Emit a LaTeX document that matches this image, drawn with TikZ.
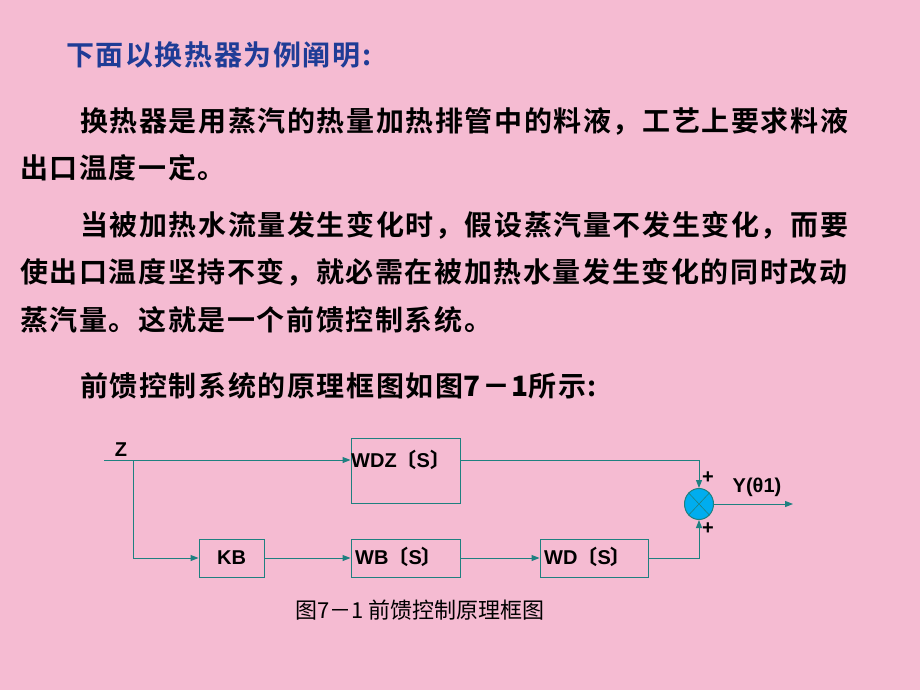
\documentclass[tikz,border=0pt]{standalone}
\usepackage{fontspec}
\setmainfont{Liberation Sans}
\newfontfamily\cjk{Noto Sans CJK SC}
\newfontfamily\cjkb[LetterSpace=5.7]{Noto Sans CJK SC Bold}
\usetikzlibrary{arrows.meta,shapes.geometric}
\definecolor{bg}{HTML}{F5BBD2}
\definecolor{ttl}{HTML}{1F3C96}
\definecolor{ln}{HTML}{1E8080}
\tikzset{
  para/.style={anchor=west,inner sep=0pt,font=\cjkb\fontsize{28}{28}\selectfont},
  blk/.style={draw=ln,line width=1pt,inner sep=0pt},
  lab/.style={inner sep=0pt,font=\bfseries\fontsize{20}{20}\selectfont},
  wire/.style={draw=ln,line width=1pt},
  arr/.style={wire,-{Triangle[length=8pt,width=6pt]}}
}
\begin{document}
\begin{tikzpicture}[x=1pt,y=-1pt]
\fill[bg] (0,0) rectangle (920,690);
\useasboundingbox (0,0) rectangle (920,690);
\node[para,text=ttl] (t) at (66,55) {下面以换热器为例阐明:};
\node[para] (l1) at (80,121) {换热器是用蒸汽的热量加热排管中的料液，工艺上要求料液};
\node[para] (l2) at (20,168) {出口温度一定。};
\node[para] (l3) at (80,225) {当被加热水流量发生变化时，假设蒸汽量不发生变化，而要};
\node[para] (l4) at (20,272) {使出口温度坚持不变，就必需在被加热水量发生变化的同时改动};
\node[para] (l5) at (20,320) {蒸汽量。这就是一个前馈控制系统。};
\node[para] (l6) at (80,386) {前馈控制系统的原理框图如图{\bfseries 7－1}所示:};
% blocks
\node[blk,minimum width=109pt,minimum height=65pt] (wdz) at (405.5,470.5) {};
\node[lab,anchor=west] (wdzt) at (351,460) {WDZ{\cjk〔}S{\cjk〕}};
\node[blk,minimum width=65pt,minimum height=38pt] (kb) at (231.5,558) {};
\node[lab] (kbt) at (kb) {KB};
\node[blk,minimum width=109pt,minimum height=38pt] (wb) at (405.5,558) {};
\node[lab,anchor=west] (wbt) at (355,557) {WB{\cjk〔}S{\cjk〕}};
\node[blk,minimum width=108pt,minimum height=38pt] (wd) at (594,558) {};
\node[lab,anchor=west] (wdt) at (544,557) {WD{\cjk〔}S{\cjk〕}};
\node[draw=ln,fill=cyan,line width=1pt,ellipse,minimum width=29pt,minimum height=31pt,inner sep=0pt] (sum) at (699,504) {};
\draw[ln,line width=0.6pt] (sum.north west) -- (sum.south east) (sum.north east) -- (sum.south west);
\coordinate (zs) at (104,460);
\coordinate (br) at (133.5,460);
\coordinate (out) at (793,504);
\node[lab] (z) at (121,450) {Z};
\node[lab] (y) at (757,487) {Y(θ1)};
\node[lab] (p1) at (708,478) {+};
\node[lab] (p2) at (708,529) {+};
\node[inner sep=0pt,font=\cjk\fontsize{22}{22}\selectfont] (cap) at (420,610) {图7－1 前馈控制原理框图};
\draw[arr] (zs) -- (wdz.west |- zs);
\draw[arr] (br) |- (kb.west);
\draw[arr] (kb.east) -- (wb.west);
\draw[arr] (wb.east) -- (wd.west);
\draw[arr] (wdz.east |- zs) -| (sum.north);
\draw[arr] (wd.east) -| (sum.south);
\draw[arr] (sum.east) -- (out);
\end{tikzpicture}
\end{document}
